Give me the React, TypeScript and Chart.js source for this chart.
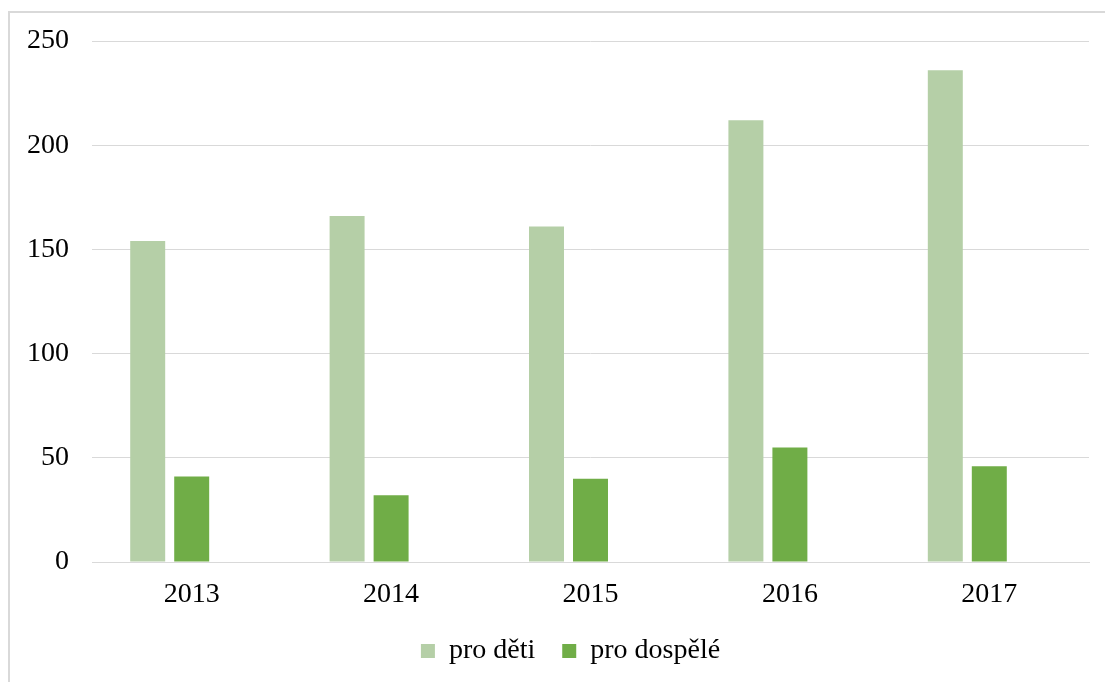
import React, { useEffect, useRef } from "react";
import { Chart, registerables } from "chart.js";

Chart.register(...registerables);

const categories = ["2013", "2014", "2015", "2016", "2017"];
const proDeti = [154, 166, 161, 212, 236];
const proDospele = [41, 32, 40, 55, 46];
const emptySeries: (number | null)[] = [null, null, null, null, null];
const yTicks = [0, 50, 100, 150, 200, 250];

const FONT = "'Liberation Serif', 'Times New Roman', serif";

const legendShift = {
  id: "legendShift",
  afterLayout(chart: any) {
    const lg = chart.legend;
    if (lg) {
      lg.left += 26;
      lg.right += 26;
    }
  },
};

export default function App() {
  const ref = useRef<HTMLCanvasElement | null>(null);

  useEffect(() => {
    if (!ref.current) return;
    const chart = new Chart(ref.current, {
      type: "bar",
      data: {
        labels: categories,
        datasets: [
          {
            label: "pro děti",
            data: proDeti,
            backgroundColor: "#b5cfa7",
            categoryPercentage: 0.662,
            barPercentage: 0.795,
          },
          {
            label: "pro dospělé",
            data: proDospele,
            backgroundColor: "#70ad47",
            categoryPercentage: 0.662,
            barPercentage: 0.795,
          },
          {
            label: "",
            data: emptySeries,
            backgroundColor: "#ffffff",
            categoryPercentage: 0.662,
            barPercentage: 0.795,
          },
        ],
      },
      plugins: [legendShift],
      options: {
        responsive: false,
        animation: false,
        layout: { padding: { left: 0, right: 16, top: 41, bottom: 7 } },
        plugins: {
          tooltip: { enabled: false },
          legend: {
            position: "bottom",
            labels: {
              boxWidth: 14,
              boxHeight: 14,
              padding: 27,
              color: "#000",
              font: { family: FONT, size: 28 },
              filter: (item) => item.text !== "",
            },
          },
        },
        scales: {
          x: {
            grid: { display: false, drawTicks: false },
            border: { display: true, color: "#d9d9d9", width: 1 },
            ticks: {
              color: "#000",
              padding: 16,
              font: { family: FONT, size: 28 },
            },
            afterFit: (s: any) => {
              s.height = 48;
            },
          },
          y: {
            min: 0,
            max: 250,
            afterBuildTicks: (s: any) => {
              s.ticks = yTicks.map((v) => ({ value: v }));
            },
            grid: { color: "#d9d9d9", lineWidth: 1, drawTicks: false },
            border: { display: false },
            ticks: {
              color: "#000",
              padding: 23,
              font: { family: FONT, size: 28 },
            },
            afterFit: (s: any) => {
              s.width = 92;
            },
          },
        },
      },
    });
    return () => chart.destroy();
  }, []);

  return (
    <div
      style={{
        position: "fixed",
        left: 0,
        top: 0,
        width: 1105,
        height: 682,
        overflow: "hidden",
        background: "#fff",
      }}
    >
      <div
        style={{
          position: "absolute",
          left: 8,
          top: 11,
          width: 1200,
          height: 800,
          border: "2px solid #d9d9d9",
          boxSizing: "border-box",
        }}
      />
      <canvas
        ref={ref}
        width={1105}
        height={682}
        style={{ position: "absolute", left: 0, top: 0, width: 1105, height: 682 }}
      />
    </div>
  );
}
